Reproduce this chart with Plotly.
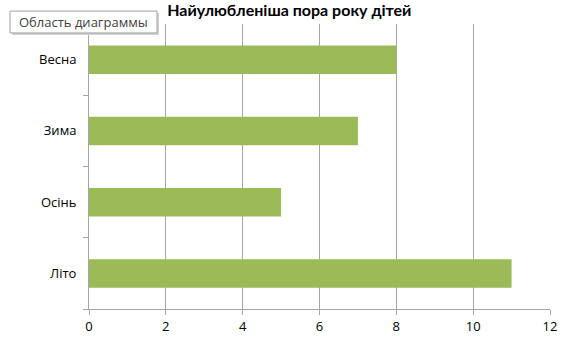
import plotly.graph_objects as go

categories = ["Літо", "Осінь", "Зима", "Весна"]
values = [11, 5, 7, 8]
x_ticks = [0, 2, 4, 6, 8, 10, 12]
title = "Найулюбленіша пора року дітей"

fig = go.Figure(go.Bar(
    y=categories, x=values, orientation="h",
    marker=dict(color="#9BBB59", line=dict(width=0)),
))

fig.update_layout(
    width=573, height=347,
    margin=dict(l=89, r=23, t=24, b=36),
    paper_bgcolor="white", plot_bgcolor="white",
    bargap=0.6,
    showlegend=False,
    font=dict(family="Open Sans, DejaVu Sans, sans-serif", color="#000000"),
    title=dict(text="<b>" + title + "</b>", x=0.505, xanchor="center",
               y=0.97, yanchor="middle",
               font=dict(size=16, family="Lato, Open Sans, sans-serif", color="#000000")),
    xaxis=dict(range=[0, 12], tickvals=x_ticks, showgrid=True, gridcolor="#A6A6A6",
               gridwidth=1, zeroline=False, showline=True, linecolor="#A6A6A6",
               ticks="outside", ticklen=5, tickcolor="#A6A6A6",
               tickfont=dict(size=13, color="#000000")),
    yaxis=dict(showgrid=False, showline=True, linecolor="#A6A6A6", zeroline=False,
               ticks="outside", ticklen=5, tickcolor="#A6A6A6", tickson="boundaries",
               ticklabelstandoff=9,
               tickfont=dict(size=13, color="#000000")),
)

# "Область диаграммы" tooltip box with a soft shadow
pw, ph = 461.0, 287.0
def px(x):
    return (x - 89) / pw
def py(y):
    return (311 - y) / ph

fig.add_shape(type="rect", xref="paper", yref="paper", layer="above",
              x0=px(12), x1=px(159), y0=py(35), y1=py(13),
              fillcolor="#D0D0D0", line=dict(width=0))
fig.add_shape(type="rect", xref="paper", yref="paper", layer="above",
              x0=px(10), x1=px(157), y0=py(33), y1=py(11),
              fillcolor="white", line=dict(color="#A0A0A0", width=1))
fig.add_annotation(
    text="Область диаграммы", xref="paper", yref="paper",
    x=px(83.5), y=py(22), xanchor="center", yanchor="middle", showarrow=False,
    font=dict(size=13, color="#404040"),
)

fig.write_html("out.html")
